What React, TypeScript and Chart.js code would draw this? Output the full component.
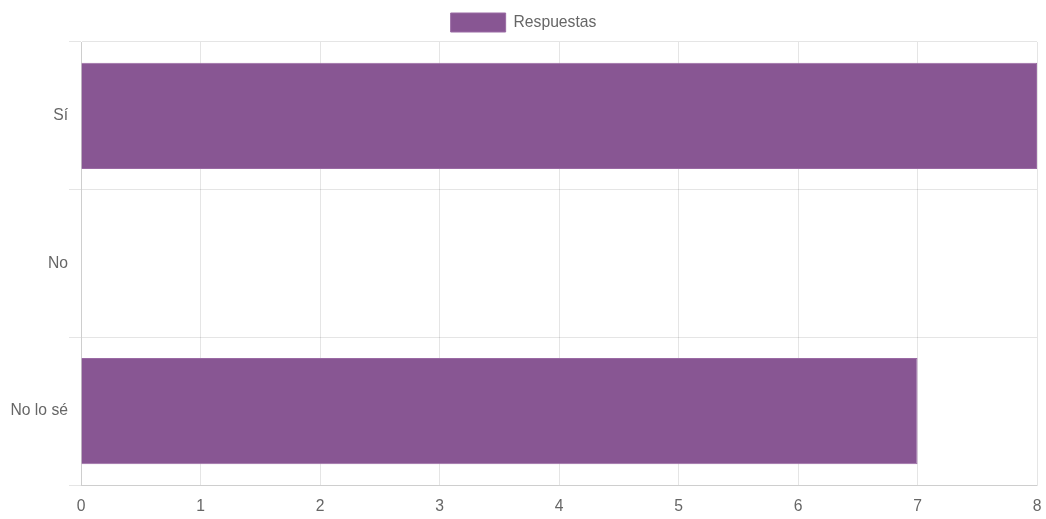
import React, { useEffect, useRef } from "react";
import { Chart, registerables } from "chart.js";

Chart.register(...registerables);

const categories = ["Sí", "No", "No lo sé"];
const values = [8, 0, 7];
const seriesLabel = "Respuestas";

export default function App() {
  const ref = useRef<HTMLCanvasElement | null>(null);
  useEffect(() => {
    if (!ref.current) return;
    const font = { family: "'Liberation Sans', Helvetica, Arial, sans-serif", size: 15.7 };
    const chart = new Chart(ref.current, {
      type: "bar",
      data: {
        labels: categories,
        datasets: [
          {
            label: seriesLabel,
            data: values,
            backgroundColor: "#885693",
            borderColor: "#9a6aa4",
            borderWidth: 1,
          },
        ],
      },
      options: {
        indexAxis: "y",
        animation: false,
        responsive: false,
        maintainAspectRatio: false,
        layout: { padding: { left: 10, right: 9, top: 2, bottom: 0 } },
        plugins: {
          legend: {
            labels: { boxWidth: 55, boxHeight: 19, color: "#666", font, padding: 11 },
          },
          tooltip: { enabled: false },
        },
        scales: {
          x: {
            min: 0,
            max: 8,
            ticks: { stepSize: 1, color: "#666", font, padding: 12 },
            grid: { color: "rgba(0,0,0,0.1)", drawTicks: false },
            border: { color: "rgba(0,0,0,0.1)" },
            afterFit: (s: any) => {
              s.height = 34;
              s.paddingLeft = 0;
              s.paddingRight = 0;
            },
          },
          y: {
            ticks: { color: "#666", font, padding: 1 },
            grid: { color: "rgba(0,0,0,0.1)", tickLength: 12, offset: true },
            border: { color: "rgba(0,0,0,0.1)" },
            afterFit: (s: any) => {
              s.width = 71;
              s.paddingTop = 0;
              s.paddingBottom = 0;
            },
          },
        },
      },
    });
    return () => chart.destroy();
  }, []);
  return (
    <div style={{ position: "absolute", left: 0, top: 0, width: 1046, height: 519 }}>
      <canvas ref={ref} width={1046} height={519} />
    </div>
  );
}
